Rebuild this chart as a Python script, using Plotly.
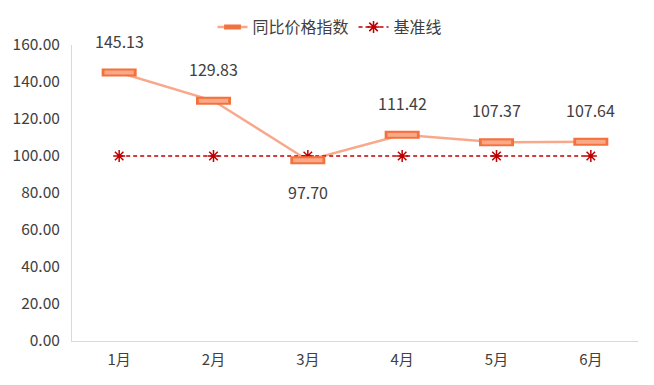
import plotly.graph_objects as go

months = ["1月", "2月", "3月", "4月", "5月", "6月"]
index_vals = [145.13, 129.83, 97.70, 111.42, 107.37, 107.64]
baseline = [100, 100, 100, 100, 100, 100]
label_pos = ["above", "above", "below", "above", "above", "above"]
y_ticks = [0, 20, 40, 60, 80, 100, 120, 140, 160]

line_col = "#F9A98B"
mk_border = "#F4713C"
mk_fill = "#F9A888"
base_col = "#C00000"

fig = go.Figure()
fig.add_trace(go.Scatter(
    x=months, y=index_vals, mode="lines", name="同比价格指数",
    line=dict(color=line_col, width=2.5), showlegend=False, hoverinfo="skip"))
fig.add_trace(go.Scatter(
    x=months, y=baseline, mode="lines+markers", name="基准线",
    line=dict(color=base_col, width=1.5, dash="4px,3px"),
    marker=dict(symbol="asterisk-open", size=10, line=dict(color=base_col, width=1.5)),
    showlegend=False))
# rectangle markers: outer border + inner fill
fig.add_trace(go.Scatter(
    x=months, y=index_vals, mode="markers", showlegend=False, hoverinfo="skip",
    marker=dict(symbol="line-ew", size=25, line=dict(color=mk_border, width=8))))
fig.add_trace(go.Scatter(
    x=months, y=index_vals, mode="markers", showlegend=False,
    marker=dict(symbol="line-ew", size=21, line=dict(color=mk_fill, width=4))))

# legend entries
fig.add_trace(go.Scatter(
    x=[None], y=[None], mode="lines+markers", name="同比价格指数",
    line=dict(color=line_col, width=2.5),
    marker=dict(symbol="line-ew", size=12, line=dict(color=mk_border, width=5))))
fig.add_trace(go.Scatter(
    x=[None], y=[None], mode="lines+markers", name="基准线",
    line=dict(color=base_col, width=1.5, dash="4px,3px"),
    marker=dict(symbol="asterisk-open", size=10, line=dict(color=base_col, width=1.5))))

for m, v, p in zip(months, index_vals, label_pos):
    fig.add_annotation(x=m, y=v, text=f"{v:.2f}", showarrow=False,
                       yshift=32 if p == "above" else -32,
                       font=dict(size=16, color="#404040"))

# page body has 8px offset; plot area on screen: x 72..638, y 45..341
L, R, T, B = 64, 24, 2, 52
plot_h = 341 - 45
fig.update_layout(
    width=654, height=385,
    margin=dict(l=L, r=R, t=T, b=B, autoexpand=False),
    paper_bgcolor="white", plot_bgcolor="white",
    font=dict(family="Noto Sans CJK SC, Microsoft YaHei, sans-serif", size=14, color="#595959"),
    legend=dict(orientation="h", x=(322 - L) / (654 - L - R), xanchor="center", y=1.0, yanchor="top",
                font=dict(size=16, color="#404040"),
                traceorder="normal", bgcolor="rgba(0,0,0,0)"),
    xaxis=dict(range=[-0.5, len(months) - 0.5], showgrid=False, showline=True,
               linecolor="#D9D9D9", linewidth=1,
               ticks="", ticklabelstandoff=5, tickfont=dict(size=15, color="#404040")),
    yaxis=dict(range=[0, 160], tickvals=y_ticks, tickformat=".2f",
               domain=[0, plot_h / (385 - T - B)],
               showgrid=False, showline=True, linecolor="#D9D9D9", linewidth=1,
               zeroline=False, ticks="", ticklabelstandoff=8,
               tickfont=dict(size=15.5, color="#404040")),
)
fig.write_html("out.html")
